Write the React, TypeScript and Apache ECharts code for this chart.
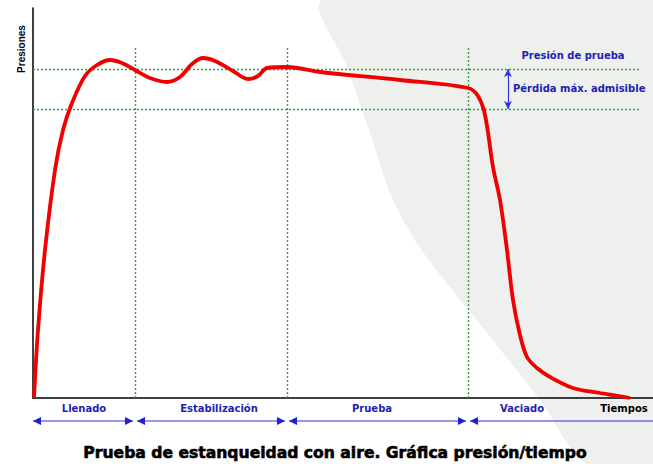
import React, { useEffect, useRef } from "react";
import * as echarts from "echarts";

// Time (arbitrary units) and pressure (arbitrary units)
const timeVals = [1, 5, 12, 22, 30, 39, 52, 64, 77, 89, 102, 117, 134, 147, 159, 170, 182, 200, 215, 225, 234, 254, 287, 367, 435, 445, 452, 460, 467, 474, 480, 487, 494, 504, 517, 540, 567, 597];
const pressureVals = [0, 68, 148, 228, 268, 295, 322, 333, 338, 335, 328, 320, 316, 321, 334, 340, 337, 327, 319, 322, 330, 331, 326, 318, 310, 302, 283, 231, 198, 148, 98, 63, 41, 30, 21, 10, 5, 0];

// Phase boundaries on the time axis and their labels
const phaseBounds = [0, 102, 254, 435, 620];
const phaseLabels = ["Llenado", "Estabilización", "Prueba", "Vaciado"];
const phaseLabelX = [51, 186, 339, 489];

// Reference pressure levels
const testPressure = 329;
const minAllowed = 289;
const refLabels = ["Presión de prueba", "Pérdida máx. admisible"];

const X_MAX = 620;
const Y_MAX = 390;

export default function App() {
  const ref = useRef<HTMLDivElement>(null);
  useEffect(() => {
    if (!ref.current) return;
    const chart = echarts.init(ref.current, null, { renderer: "svg" });
    const green = "#3f9a3f";
    const blue = "#2222b0";
    const smallFont = "bold 10px 'DejaVu Sans', Verdana, sans-serif";
    const dotted = { color: green, type: [2, 2] as any, width: 1.4 };
    const option: any = {
      animation: false,
      backgroundColor: "#ffffff",
      title: {
        text: "Prueba de estanqueidad con aire. Gráfica presión/tiempo",
        left: 330,
        textAlign: "center",
        top: 440,
        textStyle: {
          fontFamily: "'DejaVu Sans', Verdana, sans-serif",
          fontWeight: "bold",
          fontSize: 15.6,
          color: "#000",
          textBorderColor: "#000",
          textBorderWidth: 0.6,
        },
      },
      grid: { left: 33, right: 0, top: 8, bottom: 66 },
      xAxis: {
        type: "value",
        min: 0,
        max: X_MAX,
        axisLine: { show: true, onZero: false, lineStyle: { color: "#000", width: 1.5 } },
        axisTick: { show: false },
        axisLabel: { show: false },
        splitLine: { show: false },
      },
      yAxis: {
        type: "value",
        min: 0,
        max: Y_MAX,
        axisLine: { show: true, lineStyle: { color: "#000", width: 1.5 } },
        axisTick: { show: false },
        axisLabel: { show: false },
        splitLine: { show: false },
      },
      series: [
        {
          type: "line",
          data: timeVals.map((t, i) => [t, pressureVals[i]]),
          smooth: 0.35,
          showSymbol: false,
          lineStyle: { color: "#f00000", width: 3.8 },
          z: 5,
          markLine: {
            silent: true,
            symbol: ["none", "none"],
            label: { show: false },
            lineStyle: dotted,
            data: [
              [{ coord: [0, testPressure] }, { coord: [607, testPressure] }],
              [{ coord: [0, minAllowed] }, { coord: [607, minAllowed] }],
              ...phaseBounds.slice(1, 4).map((b) => [{ coord: [b, 0] }, { coord: [b, 351] }]),
            ],
          },
        },
        {
          type: "line",
          data: [],
          markLine: {
            silent: true,
            symbol: ["arrow", "arrow"],
            symbolSize: [6, 8],
            label: { show: false },
            lineStyle: { color: "#3333dd", type: "solid", width: 1.2 },
            data: [[{ coord: [475, testPressure] }, { coord: [475, minAllowed] }]],
          },
        },
      ],
    };
    chart.setOption(option);

    const px = (x: number, y: number) => chart.convertToPixel({ gridIndex: 0 }, [x, y]) as number[];
    const graphics: any[] = [];
    // light background shape on the right
    graphics.push({
      type: "polygon",
      z: -10,
      silent: true,
      shape: {
        smooth: 0.3,
        points: [
          [323, 0], [347, 67], [370, 133], [393, 200], [423, 252], [487, 333], [540, 400], [587, 464], [653, 464], [653, 0],
        ],
      },
      style: { fill: "#edf0ed" },
    });
    // phase arrows under the axis
    const arrowY = 421;
    phaseBounds.slice(0, 4).forEach((b, i) => {
      const x1 = px(b, 0)[0] + (i === 0 ? 0 : 2);
      const x2 = i === 3 ? 653 : px(phaseBounds[i + 1], 0)[0] - 2;
      graphics.push({ type: "line", silent: true, shape: { x1, y1: arrowY, x2, y2: arrowY }, style: { stroke: "#3030d8", lineWidth: 1.2 } });
      graphics.push({ type: "polygon", silent: true, shape: { points: [[x1, arrowY], [x1 + 8, arrowY - 4], [x1 + 8, arrowY + 4]] }, style: { fill: "#2020d0" } });
      if (i < 3) {
        graphics.push({ type: "polygon", silent: true, shape: { points: [[x2, arrowY], [x2 - 8, arrowY - 4], [x2 - 8, arrowY + 4]] }, style: { fill: "#2020d0" } });
      }
    });
    phaseLabels.forEach((lab, i) => {
      const p = px(phaseLabelX[i], 0);
      graphics.push({
        type: "text",
        silent: true,
        x: p[0],
        y: 408,
        style: { text: lab, fill: blue, font: smallFont, align: "center", verticalAlign: "middle" },
      });
    });
    graphics.push({
      type: "text",
      silent: true,
      x: 624,
      y: 408,
      style: { text: "Tiempos", fill: "#000", font: "bold 10px 'DejaVu Sans', Verdana, sans-serif", align: "center", verticalAlign: "middle" },
    });
    graphics.push({
      type: "text",
      silent: true,
      x: 21,
      y: 49,
      rotation: Math.PI / 2,
      style: { text: "Presiones", fill: "#000", font: "bold 10px 'Liberation Sans', Arial, sans-serif", align: "center", verticalAlign: "middle" },
    });
    const pTop = px(0, testPressure)[1];
    graphics.push({
      type: "text",
      silent: true,
      x: 573,
      y: pTop - 14,
      style: { text: refLabels[0], fill: blue, font: smallFont, align: "center", verticalAlign: "middle" },
    });
    const pMid = (px(0, testPressure)[1] + px(0, minAllowed)[1]) / 2;
    graphics.push({
      type: "text",
      silent: true,
      x: 513,
      y: pMid - 1,
      style: { text: refLabels[1], fill: blue, font: smallFont, align: "left", verticalAlign: "middle" },
    });
    chart.setOption({ graphic: graphics });
    return () => chart.dispose();
  }, []);
  return <div ref={ref} style={{ position: "fixed", left: 0, top: 0, width: 653, height: 464 }} />;
}
